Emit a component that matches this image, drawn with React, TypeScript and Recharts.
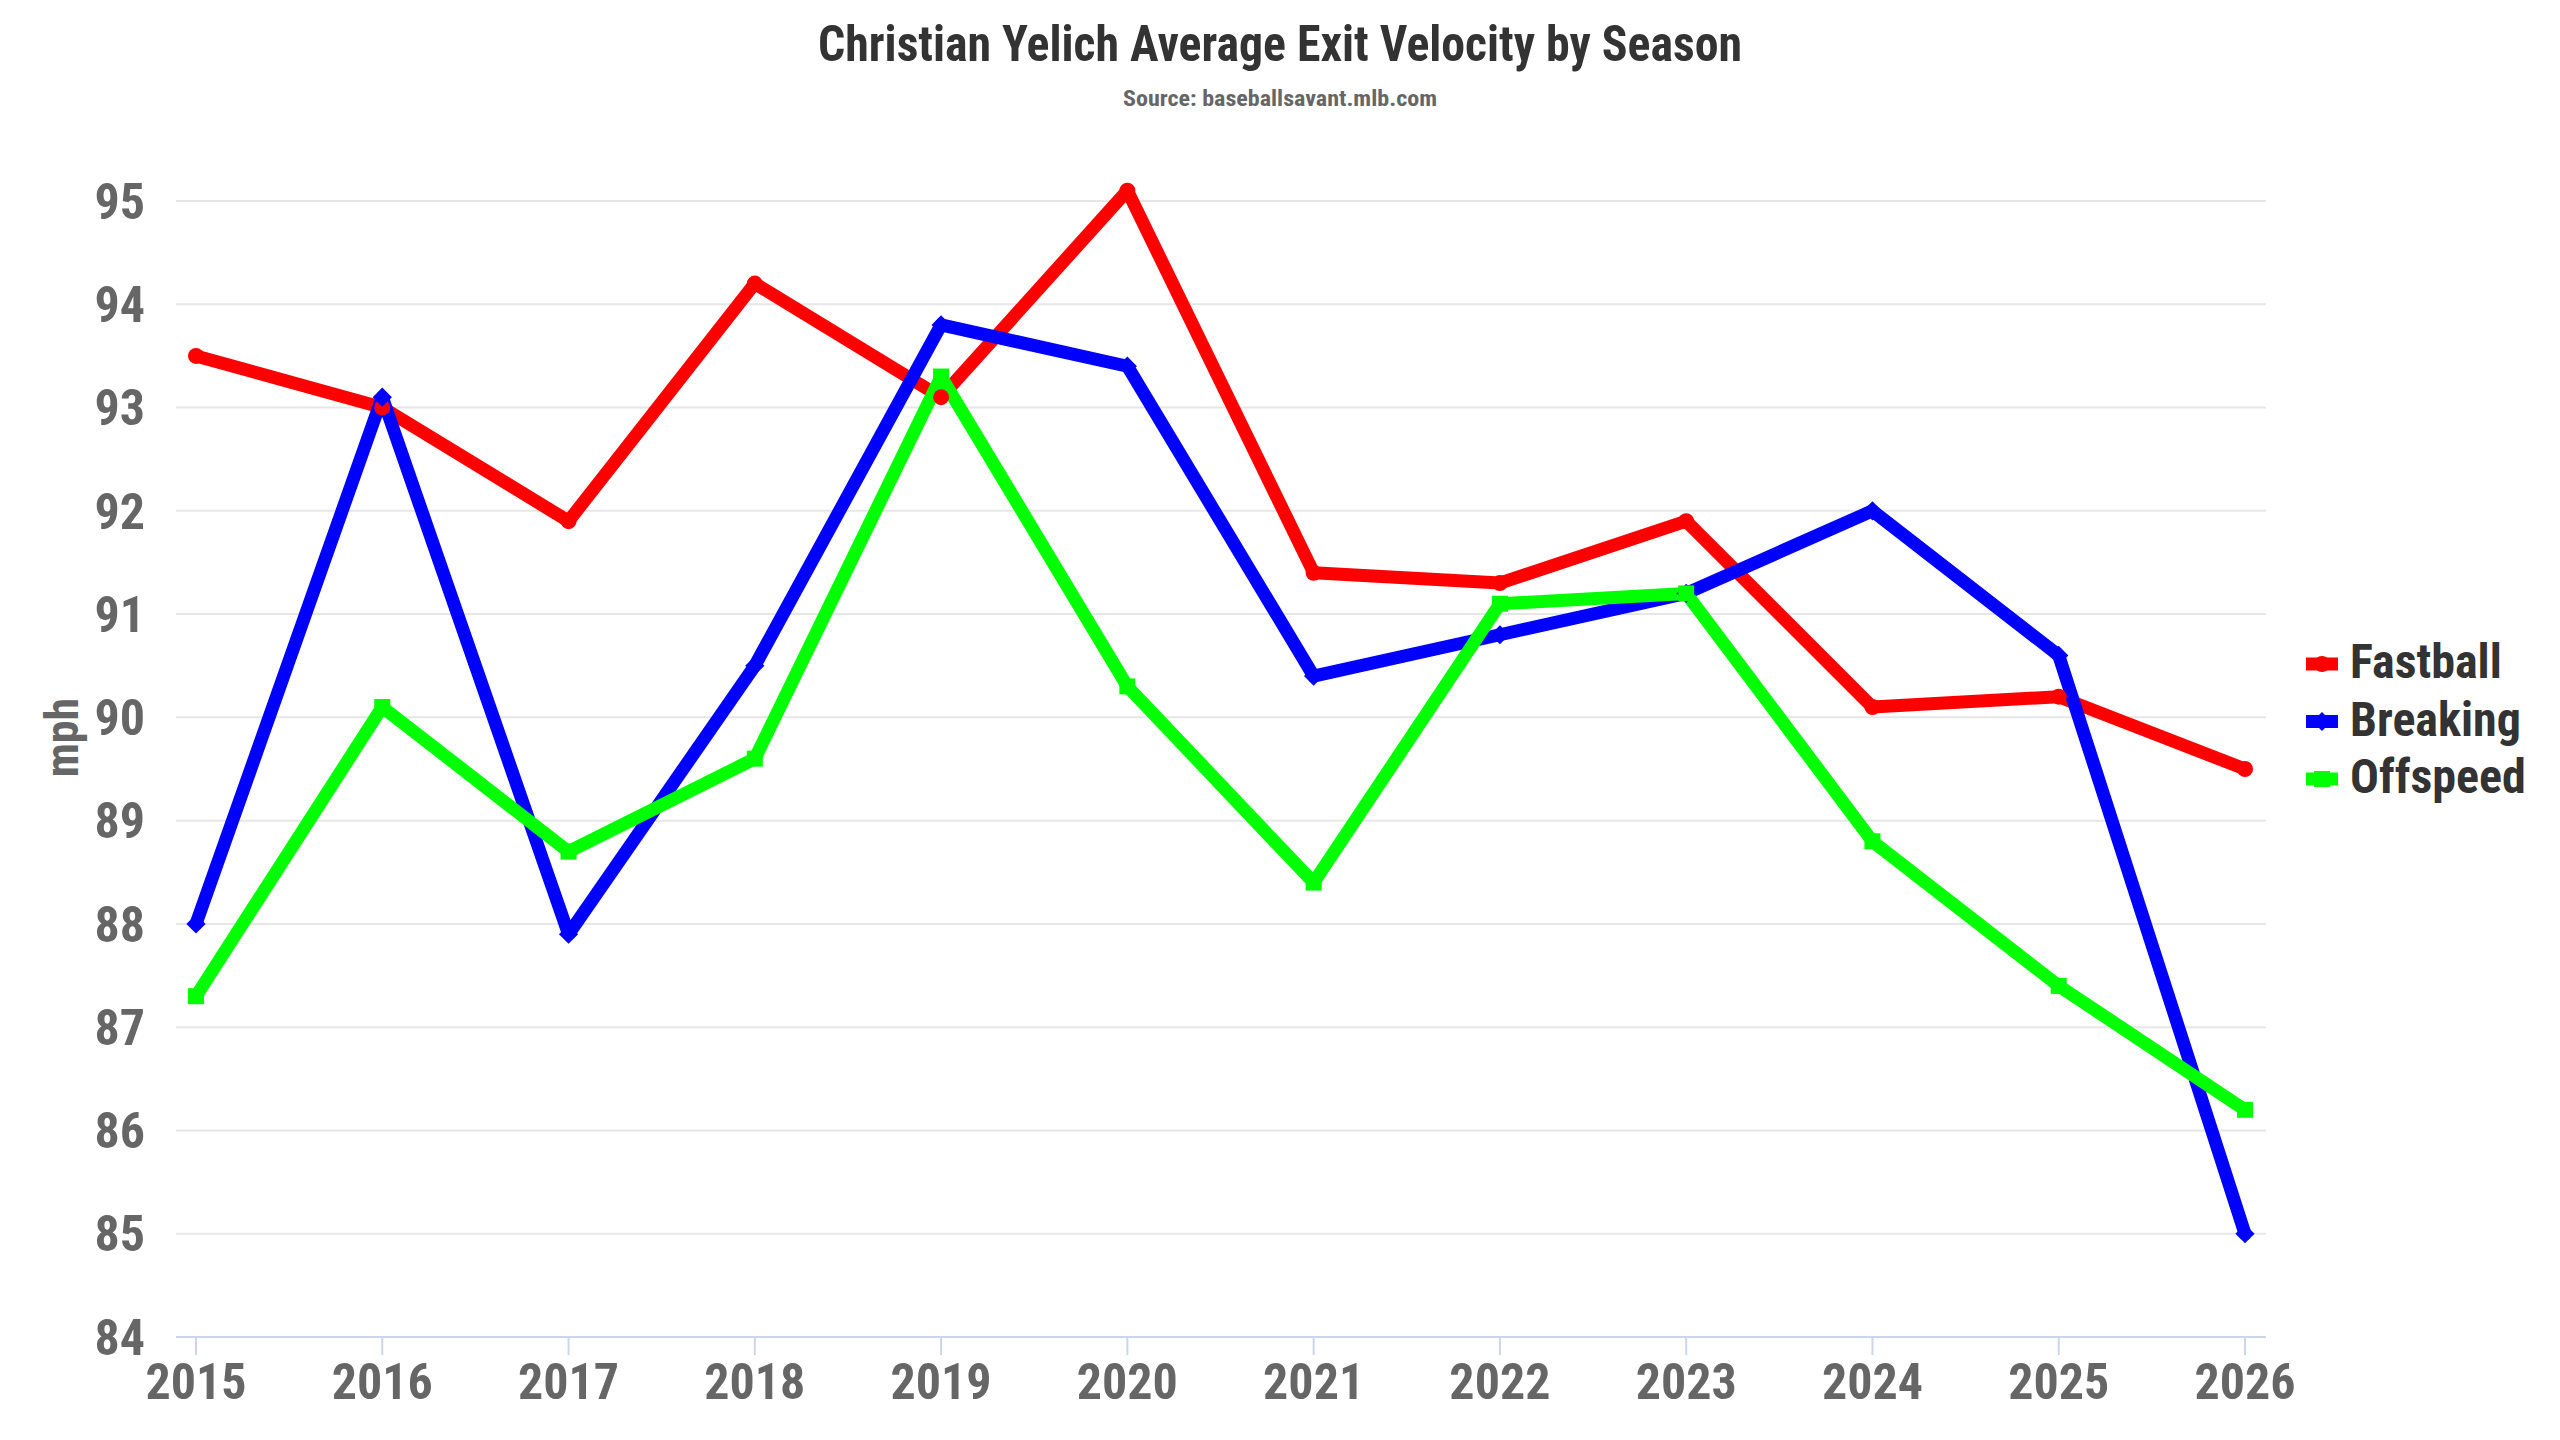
import React from 'react';
import { LineChart, Line, XAxis, YAxis, CartesianGrid, Legend } from 'recharts';

const years = ['2015', '2016', '2017', '2018', '2019', '2020', '2021', '2022', '2023', '2024', '2025', '2026'];
const fastball = [93.5, 93.0, 91.9, 94.2, 93.1, 95.1, 91.4, 91.3, 91.9, 90.1, 90.2, 89.5];
const breaking = [88.0, 93.1, 87.9, 90.5, 93.8, 93.4, 90.4, 90.8, 91.2, 92.0, 90.6, 85.0];
const offspeed = [87.3, 90.1, 88.7, 89.6, 93.3, 90.3, 88.4, 91.1, 91.2, 88.8, 87.4, 86.2];
const yTicks = [84, 85, 86, 87, 88, 89, 90, 91, 92, 93, 94, 95];

const TITLE = 'Christian Yelich Average Exit Velocity by Season';
const SUBTITLE = 'Source: baseballsavant.mlb.com';
const Y_LABEL = 'mph';

const SERIES = [
  { key: 'Fastball', color: '#ff0000', shape: 'circle' },
  { key: 'Breaking', color: '#0000ff', shape: 'diamond' },
  { key: 'Offspeed', color: '#00ff00', shape: 'square' },
];

const data = years.map((year, i) => ({
  year,
  Fastball: fastball[i],
  Breaking: breaking[i],
  Offspeed: offspeed[i],
}));

const FONT = "'Liberation Sans Narrow', 'Roboto Condensed', 'DejaVu Sans Condensed', 'Liberation Sans', sans-serif";

function Marker({ shape, cx, cy, color, r }: any) {
  if (cx == null || cy == null || isNaN(cx) || isNaN(cy)) return null;
  if (shape === 'circle') return <circle cx={cx} cy={cy} r={r} fill={color} />;
  if (shape === 'diamond')
    return <path d={`M${cx},${cy - r * 1.2} L${cx + r * 1.2},${cy} L${cx},${cy + r * 1.2} L${cx - r * 1.2},${cy} Z`} fill={color} />;
  return <rect x={cx - r} y={cy - r} width={r * 2} height={r * 2} fill={color} />;
}

const makeDot = (shape: string, color: string) => (props: any) => (
  <Marker key={`${shape}-${props.index}`} shape={shape} cx={props.cx} cy={props.cy} color={color} r={8} />
);

const renderLegend = () => (
  <svg width={320} height={200} style={{ display: 'block', overflow: 'visible' }}>
    {SERIES.map((s, i) => {
      const cy = 28 + i * 57.5;
      return (
        <g key={s.key}>
          <line x1={0} y1={cy} x2={32} y2={cy} stroke={s.color} strokeWidth={13} />
          <Marker shape={s.shape} cx={16} cy={cy} color={s.color} r={8} />
          <text x={44} y={cy + 14} fontFamily={FONT} fontWeight="bold" fontSize={48} fill="#333333">
            {s.key}
          </text>
        </g>
      );
    })}
  </svg>
);

const renderYLabel = (props: any) => {
  const vb = props.viewBox || {};
  const x = (vb.x || 0) + 48;
  const y = (vb.y || 0) + (vb.height || 0) / 2 - 16;
  return (
    <text
      x={x}
      y={y}
      transform={`rotate(-90, ${x}, ${y})`}
      textAnchor="middle"
      fontFamily={FONT}
      fontWeight="bold"
      fontSize={46}
      fill="#666666"
    >
      {Y_LABEL}
    </text>
  );
};

export default function App() {
  return (
    <div style={{ position: 'absolute', left: 0, top: 0, width: 2560, height: 1440, background: '#ffffff' }}>
      <svg width={2560} height={130} style={{ position: 'absolute', left: 0, top: 0 }}>
        <text
          x={1280}
          y={61}
          textAnchor="middle"
          fontFamily={FONT}
          fontWeight="bold"
          fontSize={50}
          fill="#333333"
          textLength={924}
          lengthAdjust="spacingAndGlyphs"
        >
          {TITLE}
        </text>
        <text
          x={1280}
          y={106}
          textAnchor="middle"
          fontFamily={FONT}
          fontWeight="bold"
          fontSize={22}
          fill="#666666"
          textLength={314}
          lengthAdjust="spacingAndGlyphs"
        >
          {SUBTITLE}
        </text>
      </svg>
      <div style={{ position: 'absolute', left: 0, top: 0 }}>
        <LineChart width={2560} height={1440} data={data} margin={{ top: 170, right: 294, bottom: 0, left: 30 }}>
          <CartesianGrid vertical={false} syncWithTicks stroke="#e6e6e6" strokeWidth={2} />
          <XAxis
            dataKey="year"
            height={103}
            padding={{ left: 20, right: 21 }}
            interval={0}
            tickSize={18}
            tickMargin={8}
            axisLine={{ stroke: '#ccd6eb', strokeWidth: 2 }}
            tickLine={{ stroke: '#ccd6eb', strokeWidth: 2 }}
            tick={{ fill: '#666666', fontSize: 50, fontWeight: 'bold', fontFamily: FONT }}
          />
          <YAxis
            width={146}
            domain={[84, 95.3]}
            ticks={yTicks}
            interval={0}
            axisLine={false}
            tickLine={false}
            tickSize={0}
            tickMargin={31}
            tick={{ fill: '#666666', fontSize: 50, fontWeight: 'bold', fontFamily: FONT }}
            label={{ content: renderYLabel }}
          />
          <Legend
            layout="vertical"
            align="center"
            verticalAlign="middle"
            content={renderLegend}
            wrapperStyle={{ left: 2306, top: 636, width: 320, height: 200, overflow: 'visible' }}
          />
          {SERIES.map((s) => (
            <Line
              key={s.key}
              type="linear"
              dataKey={s.key}
              stroke={s.color}
              strokeWidth={13}
              strokeLinejoin="round"
              strokeLinecap="round"
              dot={makeDot(s.shape, s.color)}
              activeDot={false}
              isAnimationActive={false}
            />
          ))}
        </LineChart>
      </div>
    </div>
  );
}
